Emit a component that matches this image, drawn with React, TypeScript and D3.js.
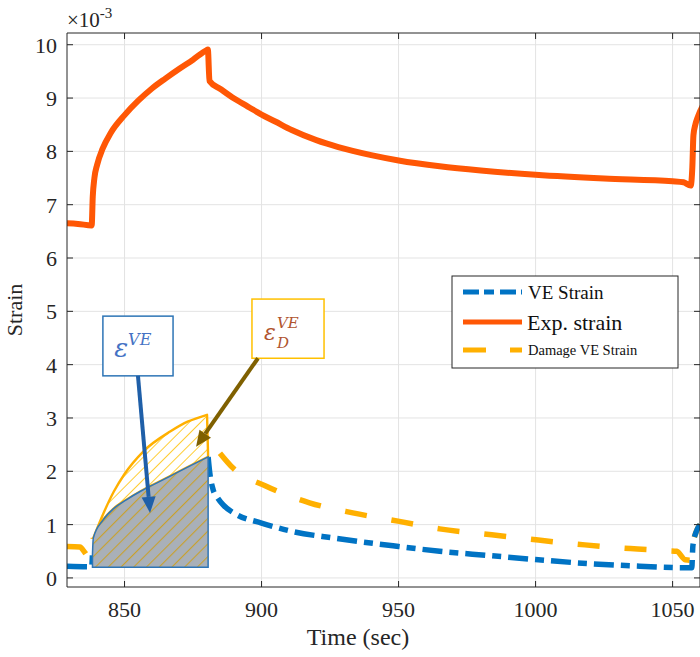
import { useEffect } from 'react';
import * as d3 from 'd3';

// all strain values in units of 1e-3
const expTime = [829, 833, 838, 838.4, 839, 840, 842, 845, 850, 855, 860, 865, 870, 875, 880, 880.4, 881, 885, 890, 895, 900, 905, 911, 920, 928, 940, 950, 965, 980, 1000, 1025, 1050, 1054, 1056.6, 1057.2, 1057.6, 1058.3, 1059.3, 1061];
const expStrain = [6.65, 6.64, 6.61, 7.15, 7.5, 7.75, 8.05, 8.35, 8.68, 8.95, 9.18, 9.37, 9.55, 9.72, 9.9, 9.91, 9.32, 9.17, 8.99, 8.84, 8.69, 8.56, 8.4, 8.21, 8.08, 7.93, 7.83, 7.72, 7.64, 7.56, 7.49, 7.44, 7.42, 7.36, 7.7, 8.3, 8.5, 8.66, 8.85];

const veTime = [829, 838, 838.3, 838.6, 842.2, 846, 850.8, 856, 862.9, 870, 875, 880.5, 881.1, 882.3, 884, 886, 890.8, 900, 911.4, 926, 950, 965, 983, 1001, 1019, 1038, 1055, 1057, 1057.4, 1058.5, 1060];
const veStrain = [0.22, 0.21, 0.45, 0.75, 1.09, 1.3, 1.47, 1.63, 1.81, 2.0, 2.13, 2.27, 1.97, 1.66, 1.5, 1.37, 1.19, 1.03, 0.87, 0.75, 0.59, 0.5, 0.42, 0.34, 0.27, 0.22, 0.19, 0.19, 0.6, 0.85, 1.0];

const dmgTime = [829, 833.7, 835.6, 836.8, 838, 838.6, 842.2, 846.1, 850, 857, 866.8, 873, 880.1, 881, 884.8, 889.6, 901.7, 917.5, 933.3, 950.3, 965, 984, 1001, 1018, 1034.6, 1048.5, 1051.5, 1054.6, 1056.8, 1057.3, 1058.5, 1060];
const dmgStrain = [0.59, 0.58, 0.47, 0.4, 0.4, 0.75, 1.2, 1.62, 1.95, 2.38, 2.75, 2.93, 3.06, 2.75, 2.34, 2.06, 1.72, 1.41, 1.22, 1.06, 0.92, 0.81, 0.71, 0.62, 0.55, 0.51, 0.5, 0.34, 0.33, 0.6, 0.85, 1.0];

// loading window that is shaded by hand in the figure
const loadStart = 838.3;
const loadEnd = 880.5;
const areaBase = 0.2;

const xTicks = [850, 900, 950, 1000, 1050];
const yTicks = [0, 1, 2, 3, 4, 5, 6, 7, 8, 9, 10];

const legendLabels = ['VE Strain', 'Exp. strain', 'Damage VE Strain'];

const W = 700;
const H = 657;
const margin = { top: 33, right: 0, bottom: 70, left: 67 };

const BLUE = '#0073C4';
const RED = '#FF5705';
const YELLOW = '#FFB000';

export default function App() {
  useEffect(() => {
    document.body.style.margin = '0';
  }, []);

  const x = d3.scaleLinear().domain([829, 1060]).range([margin.left, W - margin.right]);
  const y = d3.scaleLinear().domain([-0.17, 10.22]).range([H - margin.bottom, margin.top]);

  const zip = (t: number[], v: number[]) => t.map((d, i) => [d, v[i]] as [number, number]);
  const expData = zip(expTime, expStrain);
  const veData = zip(veTime, veStrain);
  const dmgData = zip(dmgTime, dmgStrain);

  const line = d3.line<[number, number]>().x(d => x(d[0])).y(d => y(d[1])).curve(d3.curveMonotoneX);

  // dashed series are hidden inside the shaded window
  const vePre = veData.filter(d => d[0] <= loadStart);
  const vePost = veData.filter(d => d[0] >= loadEnd);
  const dmgPre = dmgData.filter(d => d[0] <= 838.6);
  const dmgPost = dmgData.filter(d => d[0] >= 884);

  // annotation regions
  const veLoad = veData.filter(d => d[0] >= loadStart && d[0] <= loadEnd);
  const dmgLoad = dmgData.filter(d => d[0] >= 838.6 && d[0] <= loadEnd);
  const grayArea = d3.area<[number, number]>()
    .x(d => x(d[0])).y0(y(areaBase)).y1(d => y(d[1]))
    .curve(d3.curveMonotoneX)(veLoad);
  const veBack = veLoad.filter(d => d[0] >= 838.6).reverse();
  const yellowArea = (line(dmgLoad) || '') + 'L' + (line(veBack) || '').slice(1) + 'Z';

  const x0 = margin.left, x1 = W - margin.right;
  const y0 = H - margin.bottom, y1 = margin.top;
  const serif = 'Liberation Serif';
  const tk = 6;

  const arrow = (ax: number, ay: number, bx: number, by: number, color: string) => {
    const X1 = x(ax), Y1 = y(ay), X2 = x(bx), Y2 = y(by);
    const ang = Math.atan2(Y2 - Y1, X2 - X1);
    const len = 16, wid = 7;
    const hx = X2 - len * Math.cos(ang), hy = Y2 - len * Math.sin(ang);
    const px = -Math.sin(ang) * wid, py = Math.cos(ang) * wid;
    return (
      <g>
        <line x1={X1} y1={Y1} x2={hx} y2={hy} stroke={color} strokeWidth={4} />
        <polygon points={`${X2},${Y2} ${hx + px},${hy + py} ${hx - px},${hy - py}`} fill={color} />
      </g>
    );
  };

  return (
    <svg width={W} height={H} style={{ display: 'block', background: '#fff' }}>
      <defs>
        <clipPath id="plot">
          <rect x={x0} y={y1} width={x1 - x0} height={y0 - y1} />
        </clipPath>
        <pattern id="hatchGray" width="9" height="9" patternUnits="userSpaceOnUse" patternTransform="rotate(45)">
          <rect width="9" height="9" fill="#A9B0B8" />
          <line x1="0" y1="0" x2="0" y2="9" stroke="#C9A12C" strokeWidth="2.2" />
        </pattern>
        <pattern id="hatchYellow" width="8" height="8" patternUnits="userSpaceOnUse" patternTransform="rotate(45)">
          <rect width="8" height="8" fill="#fff" />
          <line x1="0" y1="0" x2="0" y2="8" stroke="#FFC000" strokeWidth="1.6" />
        </pattern>
      </defs>

      {/* grid */}
      <g stroke="#E3E3E3" strokeWidth={1}>
        {xTicks.map(t => <line key={'gx' + t} x1={x(t)} x2={x(t)} y1={y1} y2={y0} />)}
        {yTicks.map(t => <line key={'gy' + t} x1={x0} x2={x1} y1={y(t)} y2={y(t)} />)}
      </g>

      {/* series */}
      <g clipPath="url(#plot)" fill="none" strokeWidth={5.5}>
        <path d={line(dmgPre) || ''} stroke={YELLOW} strokeDasharray="22,25" />
        <path d={line(dmgPost) || ''} stroke={YELLOW} strokeDasharray="22,25" />
        <path d={line(vePre) || ''} stroke={BLUE} strokeDasharray="20,7,9,7" />
        <path d={line(vePost) || ''} stroke={BLUE} strokeDasharray="20,7,9,7" />
        <path d={line(expData) || ''} stroke={RED} strokeLinejoin="round" strokeWidth={6} />
      </g>

      {/* hatched regions */}
      <path d={yellowArea} fill="url(#hatchYellow)" stroke={YELLOW} strokeWidth={2.4} strokeLinejoin="round" />
      <path d={grayArea || ''} fill="url(#hatchGray)" stroke="#2E75B6" strokeWidth={1.5} />

      {/* axes frame and ticks */}
      <g stroke="#262626" strokeWidth={1} fill="none">
        <line x1={x0} x2={x1} y1={y0} y2={y0} />
        <line x1={x0} x2={x1} y1={y1} y2={y1} />
        <line x1={x0} x2={x0} y1={y1} y2={y0} />
        <line x1={x1} x2={x1} y1={y1} y2={y0} />
        {xTicks.map(t => (
          <g key={'tx' + t}>
            <line x1={x(t)} x2={x(t)} y1={y0} y2={y0 - tk} />
            <line x1={x(t)} x2={x(t)} y1={y1} y2={y1 + tk} />
          </g>
        ))}
        {yTicks.map(t => (
          <g key={'ty' + t}>
            <line x1={x0} x2={x0 + tk} y1={y(t)} y2={y(t)} />
            <line x1={x1} x2={x1 - tk} y1={y(t)} y2={y(t)} />
          </g>
        ))}
      </g>
      <g fontFamily={serif} fontSize={22} fill="#262626">
        {xTicks.map(t => (
          <text key={'lx' + t} x={x(t)} y={617} textAnchor="middle">{t}</text>
        ))}
        {yTicks.map(t => (
          <text key={'ly' + t} x={x0 - 10} y={y(t) + 8} textAnchor="end">{t}</text>
        ))}
        <text x={x0} y={27} fontSize={21}>×10<tspan fontSize={15} dy={-9}>-3</tspan></text>
        <text x={358} y={645} textAnchor="middle" fontSize={24}>Time (sec)</text>
        <text transform={`translate(22,${(y0 + y1) / 2}) rotate(-90)`} textAnchor="middle" fontSize={22}>Strain</text>
      </g>

      {/* legend */}
      <g fontFamily={serif} fill="#111">
        <rect x={452} y={276} width={226} height={92} fill="#fff" stroke="#262626" strokeWidth={1} />
        <line x1={463} x2={522} y1={292} y2={292} stroke={BLUE} strokeWidth={5} strokeDasharray="16,5,10,6" />
        <text x={528} y={299} fontSize={19}>{legendLabels[0]}</text>
        <line x1={463} x2={522} y1={322} y2={322} stroke={RED} strokeWidth={5} />
        <text x={527} y={330} fontSize={22}>{legendLabels[1]}</text>
        <line x1={463} x2={522} y1={350} y2={350} stroke={YELLOW} strokeWidth={5} strokeDasharray="23,24" />
        <text x={528} y={355} fontSize={14.5}>{legendLabels[2]}</text>
      </g>

      {/* annotation boxes */}
      <rect x={x(842.1)} y={y(4.91)} width={x(867.7) - x(842.1)} height={y(3.79) - y(4.91)} fill="#fff" stroke="#2E75B6" strokeWidth={1.5} />
      <text fontFamily="DejaVu Serif, serif" fontStyle="italic" fill="#4472C4">
        <tspan x={x(846.2)} y={y(4.144)} fontSize={26}>ε</tspan>
        <tspan x={x(851.3)} y={y(4.369)} fontSize={16}>VE</tspan>
      </text>
      {arrow(854.9, 3.79, 859.3, 1.22, '#1F5FA8')}

      <rect x={x(896.5)} y={y(5.23)} width={x(922.8) - x(896.5)} height={y(4.12) - y(5.23)} fill="#fff" stroke="#FFC000" strokeWidth={1.5} />
      <text fontFamily="DejaVu Serif, serif" fontStyle="italic" fill="#B0542E">
        <tspan x={x(900.9)} y={y(4.462)} fontSize={22}>ε</tspan>
        <tspan x={x(905.6)} y={y(4.687)} fontSize={15}>VE</tspan>
        <tspan x={x(905.6)} y={y(4.312)} fontSize={15}>D</tspan>
      </text>
      {arrow(898.7, 4.12, 876.1, 2.46, '#7F6000')}
    </svg>
  );
}
